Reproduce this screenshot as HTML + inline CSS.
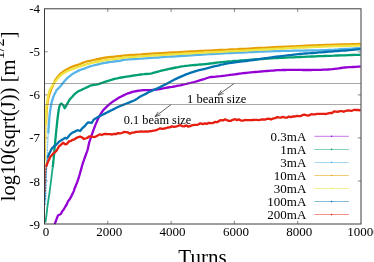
<!DOCTYPE html>
<html><head><meta charset="utf-8"><title>plot</title>
<style>
html,body{margin:0;padding:0;background:#fff;}
body{width:374px;height:262px;overflow:hidden;}
svg{display:block;will-change:transform;opacity:0.999;}
text{font-family:"Liberation Serif",serif;fill:#000;}
</style></head><body>
<svg width="374" height="262" viewBox="0 0 374 262">
<defs><clipPath id="c"><rect x="44.5" y="8.8" width="317.1" height="215.7"/></clipPath></defs>
<g stroke="#555" stroke-width="0.7">
<line x1="44.5" x2="47.7" y1="51.8" y2="51.8"/><line x1="361.0" x2="357.8" y1="51.8" y2="51.8"/>
<line y1="8.8" y2="12.0" x1="107.8" x2="107.8"/><line y1="224.0" y2="220.8" x1="107.8" x2="107.8"/>
<line x1="44.5" x2="47.7" y1="94.9" y2="94.9"/><line x1="361.0" x2="357.8" y1="94.9" y2="94.9"/>
<line y1="8.8" y2="12.0" x1="171.1" x2="171.1"/><line y1="224.0" y2="220.8" x1="171.1" x2="171.1"/>
<line x1="44.5" x2="47.7" y1="137.9" y2="137.9"/><line x1="361.0" x2="357.8" y1="137.9" y2="137.9"/>
<line y1="8.8" y2="12.0" x1="234.4" x2="234.4"/><line y1="224.0" y2="220.8" x1="234.4" x2="234.4"/>
<line x1="44.5" x2="47.7" y1="181.0" y2="181.0"/><line x1="361.0" x2="357.8" y1="181.0" y2="181.0"/>
<line y1="8.8" y2="12.0" x1="297.7" x2="297.7"/><line y1="224.0" y2="220.8" x1="297.7" x2="297.7"/>
</g>
<g clip-path="url(#c)" fill="none" stroke-width="2.3" stroke-linejoin="round" stroke-linecap="butt">
<polyline stroke="#9400D3" points="54.5,224.2 55.2,222.7 56.1,220.5 57.1,217.6 58.1,215.3 60.1,214.5 61.0,213.7 62.1,211.4 63.7,209.5 65.4,206.5 66.7,204.5 68.1,201.1 69.3,199.8 70.9,197.2 72.1,194.6 72.9,193.1 73.8,191.1 74.7,188.1 75.4,186.8 76.1,184.8 77.1,182.4 78.0,179.8 78.8,177.5 79.2,176.0 79.8,174.1 80.4,171.8 81.1,169.4 81.7,167.1 82.3,165.0 82.8,163.4 83.3,161.8 84.0,159.8 84.8,157.5 85.7,155.3 86.4,153.1 87.1,151.3 87.5,150.0 88.1,147.6 88.6,145.2 89.1,142.9 89.7,141.1 90.5,138.6 91.4,135.8 92.3,133.3 92.9,131.6 94.0,128.6 95.0,126.0 95.6,124.4 96.5,122.4 97.4,120.2 98.2,118.5 99.2,116.7 100.5,114.4 101.9,112.1 103.0,110.5 104.5,108.8 106.3,107.1 107.8,105.7 109.3,104.4 111.1,102.9 112.7,101.7 114.6,100.4 117.0,98.9 119.1,97.6 120.8,96.7 123.0,95.6 125.3,94.5 127.1,93.7 128.9,93.1 131.1,92.4 133.3,91.7 135.1,91.3 136.9,91.0 139.2,90.6 141.5,90.3 143.2,90.1 145.4,90.1 147.9,90.1 150.0,90.1 151.7,90.0 153.9,89.8 156.2,89.6 158.0,89.4 159.8,89.1 162.0,88.6 164.2,88.2 166.0,87.8 167.8,87.5 170.0,87.1 172.3,86.8 174.1,86.5 175.9,86.2 178.1,85.7 180.3,85.3 182.1,84.9 183.9,84.5 186.1,84.0 188.3,83.4 190.1,83.0 191.9,82.5 194.2,82.0 196.5,81.4 198.2,80.9 200.4,80.2 203.0,79.4 205.0,78.8 207.1,78.0 210.0,77.2 211.4,77.0 213.3,76.8 215.6,76.6 218.1,76.3 220.6,76.1 223.0,75.8 225.0,75.6 226.4,75.4 228.2,75.2 230.3,74.9 232.6,74.6 235.0,74.3 237.3,74.0 239.6,73.7 241.7,73.4 243.5,73.2 245.0,73.0 246.7,72.8 248.7,72.6 250.9,72.4 253.2,72.2 255.4,72.0 257.5,71.8 259.4,71.6 261.0,71.5 262.6,71.4 264.6,71.2 266.7,71.0 269.0,70.8 271.3,70.6 273.4,70.5 275.4,70.3 277.0,70.2 278.6,70.2 280.6,70.1 282.8,70.0 285.2,70.0 287.5,69.9 289.6,69.9 291.5,69.8 293.0,69.8 294.8,69.8 296.8,69.8 299.0,69.9 301.2,69.9 303.2,70.0 305.0,70.0 306.5,70.0 308.5,70.0 310.7,70.0 313.1,69.9 315.5,69.9 317.7,69.9 319.6,69.8 321.0,69.8 323.4,69.7 325.9,69.6 328.2,69.5 330.0,69.4 332.3,69.2 334.8,68.9 337.0,68.6 338.7,68.4 341.0,68.0 343.2,67.7 345.0,67.5 346.8,67.4 349.0,67.2 351.2,67.1 353.0,67.0 355.6,66.8 358.6,66.6 360.6,66.5"/>
<polyline stroke="#009E73" stroke-width="1.8" opacity="0.9" points="45.4,222.7 46.7,213.4 47.4,206.7 49.4,193.4 51.4,178.0 52.7,167.4"/>
<polyline stroke="#009E73" points="52.7,167.4 52.8,166.2 53.1,164.2 53.3,161.7 53.6,159.2 53.8,156.9 54.0,155.3 54.2,153.3 54.4,151.1 54.5,148.8 54.7,146.7 54.9,145.0 55.1,142.8 55.3,140.3 55.6,137.7 55.8,135.3 56.0,133.4 56.2,131.5 56.4,129.1 56.7,126.6 57.0,124.0 57.2,121.7 57.4,120.0 57.6,118.1 57.9,115.8 58.2,113.5 58.5,111.5 58.7,110.0 59.3,107.0 60.0,104.7 61.4,103.5 63.4,105.5 64.7,108.2 65.6,106.8 67.0,104.2 68.1,102.3 69.3,100.0 70.8,98.2 72.1,97.0 74.0,94.7 76.1,92.9 78.5,91.1 81.4,90.0 83.1,89.0 85.5,88.0 87.9,86.9 90.0,85.7 91.7,85.3 93.8,84.9 96.2,84.7 98.5,84.1 100.5,83.4 102.1,82.9 104.1,82.2 106.5,81.4 109.0,80.6 111.4,79.8 113.7,79.1 115.6,78.6 117.2,78.3 119.1,77.9 121.4,77.5 123.9,77.1 126.3,76.7 128.7,76.3 130.9,76.0 132.7,75.7 134.0,75.5 136.3,75.1 138.5,74.8 140.4,74.5 142.0,74.3 143.8,74.2 146.0,74.0 148.2,73.9 150.0,73.7 151.8,73.3 154.0,72.7 156.2,72.1 158.0,71.6 159.6,71.2 161.6,70.6 163.8,70.1 166.0,69.6 167.3,69.3 169.2,68.9 171.3,68.5 173.7,68.0 176.1,67.5 178.4,67.1 180.4,66.7 182.1,66.4 183.8,66.2 185.8,65.9 188.1,65.7 190.6,65.4 192.9,65.2 195.1,65.0 196.9,64.8 198.2,64.7 200.5,64.5 202.4,64.3 205.0,64.1 206.2,64.0 207.8,63.8 209.8,63.5 212.0,63.3 214.4,63.0 216.8,62.7 219.2,62.4 221.4,62.2 223.4,62.0 225.0,61.8 226.5,61.7 228.3,61.5 230.2,61.3 232.2,61.2 234.3,61.0 236.5,60.8 238.7,60.7 240.9,60.5 243.0,60.3 245.0,60.2 246.9,60.1 249.2,59.9 251.9,59.7 254.9,59.5 258.1,59.3 261.4,59.1 264.8,58.8 268.2,58.6 271.5,58.4 274.6,58.2 277.5,58.0 280.0,57.9 282.7,57.8 285.9,57.6 289.6,57.4 291.7,57.4 293.7,57.3 295.9,57.2 298.0,57.1 300.3,57.0 302.5,56.9 304.7,56.8 306.9,56.7 309.1,56.6 311.2,56.5 313.3,56.5 315.3,56.4 319.0,56.2 322.3,56.1 325.0,56.0 327.6,55.9 330.6,55.8 333.9,55.7 337.5,55.5 341.1,55.4 344.8,55.3 348.3,55.1 351.6,55.0 354.6,54.9 357.2,54.8 359.2,54.8 360.6,54.7"/>
<polyline stroke="#56B4E9" stroke-width="1.3" stroke-dasharray="2.2 0.5" opacity="0.75" points="45.6,205.0 46.3,175.0 47.3,155.0 47.4,146.7 48.3,133.4"/>
<polyline stroke="#56B4E9" points="48.3,133.4 48.4,132.0 48.5,129.6 48.7,126.7 48.9,123.8 49.1,121.3 49.2,119.5 49.4,117.1 49.6,114.8 49.9,112.7 50.2,110.7 50.6,108.0 51.0,105.4 51.4,103.4 52.0,101.1 52.8,98.6 53.4,96.7 54.4,94.4 55.4,92.5 56.7,90.0 58.1,88.6 60.0,86.7 61.0,85.5 62.4,83.8 64.0,81.8 65.5,80.0 66.7,78.7 68.2,77.4 70.1,75.8 71.9,74.4 73.4,73.4 75.5,72.2 78.1,70.9 80.1,70.0 82.6,69.1 85.0,68.4 87.1,67.5 90.0,66.4 91.4,66.0 93.4,65.5 95.8,64.9 98.4,64.3 100.9,63.7 103.2,63.2 105.0,62.8 106.8,62.5 109.1,62.2 111.6,61.9 114.2,61.5 116.6,61.2 118.6,61.0 120.0,60.8 121.6,60.3 125.0,59.7 126.5,59.6 128.6,59.4 131.2,59.2 134.2,59.0 137.5,58.8 141.0,58.6 144.5,58.3 148.1,58.1 151.5,57.9 154.7,57.6 157.6,57.5 160.0,57.3 162.4,57.1 165.4,56.9 168.6,56.7 172.2,56.5 175.9,56.3 179.8,56.0 183.6,55.8 187.4,55.5 191.0,55.3 194.4,55.1 197.4,54.9 200.0,54.8 202.6,54.6 205.6,54.4 208.9,54.2 212.4,54.0 216.2,53.8 220.0,53.6 223.8,53.4 227.6,53.2 231.1,53.0 234.4,52.9 237.4,52.7 240.0,52.6 242.6,52.5 245.5,52.3 248.8,52.2 252.3,52.1 256.0,51.9 259.8,51.7 263.6,51.6 267.3,51.4 270.9,51.3 274.2,51.2 277.3,51.1 280.0,51.0 282.8,50.9 286.1,50.9 289.9,50.8 294.0,50.7 298.3,50.6 302.7,50.6 307.1,50.5 311.4,50.4 315.4,50.3 319.1,50.3 322.3,50.2 325.0,50.1 327.6,50.0 330.6,49.8 333.9,49.7 337.5,49.5 341.1,49.2 344.8,49.0 348.3,48.8 351.6,48.6 354.6,48.4 357.2,48.2 359.2,48.1 360.6,48.0"/>
<polyline stroke="#E69F00" stroke-width="1.3" stroke-dasharray="2.2 0.5" opacity="0.75" points="45.2,160.0 45.9,125.0"/>
<polyline stroke="#E69F00" points="45.9,125.0 46.0,123.8 46.1,121.8 46.2,119.4 46.3,116.6 46.5,113.8 46.6,111.2 46.8,109.0 46.9,107.4 47.2,104.9 47.6,102.3 48.0,99.9 48.4,98.0 48.9,96.1 49.6,93.8 50.4,91.6 50.9,90.0 51.8,87.9 52.8,86.0 53.5,84.2 54.5,81.9 55.4,80.0 56.7,78.1 58.5,75.9 60.0,74.2 61.5,72.9 63.5,71.4 65.2,70.3 67.2,69.2 69.8,67.8 72.0,66.8 73.8,66.1 76.1,65.3 78.4,64.6 80.1,64.0 82.7,62.9 85.0,62.0 87.1,61.4 90.0,60.8 91.4,60.5 93.4,60.1 95.8,59.5 98.4,59.0 100.9,58.5 103.2,58.0 105.0,57.7 106.8,57.5 109.1,57.2 111.6,56.9 114.2,56.7 116.6,56.4 118.6,56.2 120.0,56.1 121.6,55.8 125.0,55.4 126.5,55.3 128.6,55.2 131.2,55.0 134.2,54.8 137.5,54.6 141.0,54.4 144.5,54.1 148.1,53.9 151.5,53.7 154.7,53.5 157.6,53.3 160.0,53.2 162.4,53.1 165.4,52.9 168.6,52.7 172.2,52.5 175.9,52.3 179.8,52.1 183.6,51.9 187.4,51.7 191.0,51.5 194.4,51.3 197.4,51.1 200.0,51.0 202.6,50.9 205.6,50.7 208.9,50.6 212.4,50.4 216.2,50.2 220.0,50.0 223.8,49.8 227.6,49.7 231.1,49.5 234.4,49.3 237.4,49.2 240.0,49.0 242.6,48.9 245.5,48.8 248.8,48.6 252.3,48.4 256.0,48.2 259.8,48.0 263.6,47.8 267.3,47.6 270.9,47.4 274.2,47.2 277.3,47.0 280.0,46.9 282.8,46.8 286.1,46.6 289.9,46.5 294.0,46.3 298.3,46.1 302.7,45.9 307.1,45.7 311.4,45.5 315.4,45.4 319.1,45.2 322.3,45.1 325.0,45.0 327.6,44.9 330.6,44.8 333.9,44.7 337.5,44.6 341.1,44.5 344.8,44.4 348.3,44.3 351.6,44.2 354.6,44.2 357.2,44.1 359.2,44.0 360.6,44.0"/>
<polyline stroke="#F0E442" stroke-width="1.3" stroke-dasharray="2.2 0.5" opacity="0.75" points="45.1,175.0 45.6,125.0"/>
<polyline stroke="#F0E442" points="45.6,125.0 45.7,123.8 45.7,121.8 45.8,119.4 45.9,116.6 46.1,113.8 46.2,111.2 46.3,109.0 46.4,107.4 46.7,104.9 47.1,102.2 47.5,99.8 47.8,98.0 48.2,95.7 48.8,93.1 49.4,91.0 50.1,89.5 51.2,87.5 52.3,85.6 53.4,84.0 54.4,82.6 55.8,80.9 57.4,78.9 58.8,77.2 60.0,76.0 61.4,74.8 63.1,73.6 64.9,72.4 66.7,71.4 68.1,70.8 70.0,70.0 72.3,69.2 74.7,68.3 76.9,67.4 78.8,66.8 80.1,66.3 82.9,65.4 85.0,64.8 87.1,64.1 90.0,63.3 91.4,63.0 93.4,62.6 95.8,62.0 98.4,61.5 100.9,61.0 103.2,60.5 105.0,60.2 106.8,59.9 109.1,59.6 111.6,59.3 114.2,59.0 116.6,58.7 118.6,58.5 120.0,58.3 121.6,57.9 125.0,57.5 126.5,57.4 128.6,57.2 131.2,57.0 134.2,56.8 137.5,56.6 141.0,56.4 144.5,56.1 148.1,55.9 151.5,55.7 154.7,55.4 157.6,55.3 160.0,55.1 162.4,54.9 165.4,54.8 168.6,54.6 172.2,54.4 175.9,54.2 179.8,53.9 183.6,53.7 187.4,53.5 191.0,53.3 194.4,53.1 197.4,52.9 200.0,52.8 202.6,52.7 205.6,52.5 208.9,52.3 212.4,52.2 216.2,52.0 220.0,51.8 223.8,51.6 227.6,51.4 231.1,51.2 234.4,51.0 237.4,50.9 240.0,50.8 242.6,50.6 245.5,50.5 248.8,50.3 252.3,50.1 256.0,49.9 259.8,49.7 263.6,49.5 267.3,49.3 270.9,49.1 274.2,48.9 277.3,48.7 280.0,48.6 282.8,48.5 286.1,48.3 289.9,48.1 294.0,47.9 298.3,47.7 302.7,47.5 307.1,47.3 311.4,47.1 315.4,46.9 319.1,46.8 322.3,46.6 325.0,46.5 327.6,46.4 330.6,46.3 333.9,46.2 337.5,46.1 341.1,46.0 344.8,45.9 348.3,45.8 351.6,45.7 354.6,45.6 357.2,45.5 359.2,45.4 360.6,45.4"/>
<polyline stroke="#0072B2" stroke-width="1.3" stroke-dasharray="2.2 0.5" opacity="0.75" points="45.2,200.0 45.6,180.0 46.3,168.0 47.6,157.6"/>
<polyline stroke="#0072B2" points="47.6,157.6 48.4,155.6 49.3,153.4 50.3,151.6 51.4,149.2 52.9,147.3 54.6,145.9 56.0,145.0 57.9,142.9 59.3,141.5 62.5,139.6 65.2,137.8 66.8,138.6 68.3,136.8 70.0,134.6 72.1,132.8 74.3,131.9 76.2,130.8 78.0,130.2 80.1,131.0 81.9,128.7 83.9,126.9 85.2,125.6 86.9,123.5 88.2,122.3 91.9,122.8 93.3,120.2 95.0,118.7 96.5,117.9 98.8,116.6 101.1,115.4 103.0,114.5 104.8,113.6 107.0,112.5 109.2,111.4 111.0,110.5 112.8,109.6 115.0,108.5 117.3,107.3 119.1,106.5 120.9,105.8 123.1,104.9 125.3,104.0 127.1,103.3 128.9,102.6 131.2,101.6 133.5,100.7 135.1,100.0 137.6,98.4 139.9,96.8 141.9,95.8 144.5,94.5 146.4,93.6 148.1,92.6 150.0,91.6 151.6,90.9 153.8,89.9 156.2,88.9 158.0,88.1 159.8,87.2 162.0,86.1 164.2,85.0 166.0,84.1 167.8,83.2 170.0,81.9 172.3,80.7 174.1,79.8 175.9,78.9 178.1,77.9 180.3,76.9 182.1,76.1 183.9,75.4 186.1,74.4 188.3,73.6 190.1,72.9 191.9,72.3 194.2,71.6 196.5,70.9 198.2,70.4 200.3,69.9 202.8,69.3 205.0,68.8 206.6,68.4 208.7,67.8 211.0,67.2 213.3,66.6 215.0,66.2 216.7,65.8 218.9,65.3 221.1,64.7 223.3,64.3 225.0,63.9 226.7,63.6 228.9,63.2 231.1,62.9 233.3,62.5 235.0,62.3 236.6,62.1 238.6,61.9 240.8,61.7 243.0,61.4 245.0,61.2 246.5,61.0 248.4,60.7 250.7,60.3 253.2,60.0 255.7,59.6 258.1,59.2 260.2,58.9 262.0,58.6 263.5,58.4 265.4,58.1 267.5,57.9 269.7,57.6 272.0,57.3 274.3,57.0 276.4,56.7 278.3,56.5 280.0,56.3 281.5,56.1 283.3,55.9 285.3,55.7 287.4,55.4 289.7,55.1 292.0,54.9 294.2,54.6 296.3,54.4 298.3,54.2 300.0,54.0 301.5,53.9 303.3,53.7 305.4,53.5 307.6,53.3 310.0,53.2 312.5,53.0 315.0,52.8 317.4,52.6 319.6,52.4 321.7,52.3 323.5,52.1 325.0,52.0 326.7,51.9 328.7,51.7 330.9,51.6 333.1,51.4 335.4,51.2 337.7,51.1 339.8,50.9 341.8,50.7 343.6,50.6 345.0,50.5 347.1,50.3 349.6,50.1 352.3,49.9 355.0,49.6 357.4,49.4 359.4,49.2 360.6,49.1"/>
<polyline stroke="#E51E10" stroke-width="1.3" stroke-dasharray="2.2 0.5" opacity="0.75" points="45.0,192.0 45.1,180.0 45.4,172.0 46.0,166.7"/>
<polyline stroke="#E51E10" points="46.0,166.7 47.0,164.2 48.2,161.4 49.2,159.2 50.3,156.7 51.5,155.6 53.0,153.7 54.4,152.6 56.4,150.8 57.8,148.5 59.1,146.2 60.3,145.4 63.0,142.8 65.2,144.3 66.8,144.0 68.9,141.5 70.4,141.2 72.7,139.8 74.9,139.2 76.4,137.8 78.4,137.2 80.1,136.7 82.0,137.4 83.9,139.0 87.1,138.0 89.2,136.3 91.4,136.6 94.9,137.1 97.3,135.8 100.0,134.3 101.8,135.0 104.0,134.0 106.0,134.0 107.7,134.2 109.9,134.1 112.2,134.5 114.0,133.8 115.8,134.1 118.0,133.1 120.2,133.4 122.0,133.0 123.8,132.0 126.0,132.2 128.2,132.5 130.0,133.7 131.7,132.7 133.8,132.7 136.0,131.9 138.0,131.9 139.5,131.6 141.4,131.4 143.7,131.6 146.0,131.4 148.1,131.6 150.0,131.1 151.5,131.1 153.4,130.7 155.5,130.4 157.8,129.5 160.2,128.3 162.4,128.8 164.4,128.5 166.0,128.2 167.6,127.5 169.7,127.4 172.0,126.4 174.3,126.9 176.7,126.3 178.8,125.7 180.7,125.2 182.0,126.2 184.2,126.4 186.3,125.4 188.3,126.7 190.0,126.2 191.8,125.4 194.2,124.9 196.4,124.9 198.2,124.6 200.4,123.3 202.9,124.1 205.0,123.3 206.7,123.9 208.9,122.9 211.2,123.2 213.0,123.0 214.8,121.9 217.2,122.2 219.4,120.7 221.0,120.1 223.2,120.4 225.0,119.3 226.8,120.1 229.0,120.9 230.6,120.9 232.8,119.8 235.2,119.2 237.0,120.1 238.8,119.4 241.0,120.5 243.2,120.6 245.0,120.0 246.7,120.1 248.9,120.1 251.1,120.2 253.0,120.0 254.6,119.9 256.8,119.9 259.2,120.2 261.4,119.5 263.0,119.3 264.9,119.6 267.1,118.8 269.3,118.7 271.0,119.5 272.8,118.6 275.0,118.2 277.2,117.1 279.0,117.4 280.8,117.6 283.0,116.8 285.2,117.7 287.0,117.7 288.8,116.6 291.0,117.1 293.2,116.4 295.0,116.5 296.7,115.8 298.8,116.1 301.0,116.0 303.0,114.8 304.5,114.7 306.6,115.3 308.9,115.5 311.2,114.2 313.3,114.3 315.0,114.3 317.0,113.9 319.5,113.9 322.0,113.8 324.4,113.8 326.0,114.0 328.2,113.3 330.4,112.9 332.0,113.1 334.0,111.4 336.0,111.6 337.7,111.8 340.0,111.2 342.0,111.1 343.7,111.8 345.9,110.8 348.2,110.4 350.0,110.6 351.9,110.8 354.2,109.8 356.5,110.0 358.0,110.0 360.6,110.4"/>
</g>
<line x1="44.5" x2="361.0" y1="83.4" y2="83.4" stroke="#505050" stroke-width="0.8" opacity="0.7"/>
<line x1="44.5" x2="361.0" y1="104.4" y2="104.4" stroke="#505050" stroke-width="0.8" opacity="0.7"/>
<rect x="44.5" y="8.8" width="316.5" height="215.2" fill="none" stroke="#3c3c3c" stroke-width="1"/>
<g font-size="13">
<text x="40.0" y="13.3" text-anchor="end">-4</text>
<text x="40.0" y="56.3" text-anchor="end">-5</text>
<text x="40.0" y="99.4" text-anchor="end">-6</text>
<text x="40.0" y="142.4" text-anchor="end">-7</text>
<text x="40.0" y="185.5" text-anchor="end">-8</text>
<text x="40.0" y="228.5" text-anchor="end">-9</text>
<text x="46.0" y="236.1" text-anchor="middle">0</text>
<text x="109.3" y="236.1" text-anchor="middle">2000</text>
<text x="172.6" y="236.1" text-anchor="middle">4000</text>
<text x="235.9" y="236.1" text-anchor="middle">6000</text>
<text x="299.2" y="236.1" text-anchor="middle">8000</text>
<text x="363.5" y="236.1" text-anchor="middle">10000</text>
</g>
<text x="202.5" y="264.3" font-size="21" text-anchor="middle">Turns</text>
<text transform="translate(15.2,116.3) rotate(-90)" font-size="20.5" letter-spacing="0.07" text-anchor="middle">log10(sqrt(J)) [m<tspan font-size="16.4" dy="-10.8">1/2</tspan><tspan dy="10.8">]</tspan></text>
<g font-size="12.35"><text x="187.1" y="102.7" font-size="12.55">1 beam size</text><text x="191.3" y="124" text-anchor="end">0.1 beam size</text></g>
<g stroke="#3c3c3c" stroke-width="0.8">
<line x1="171.05" y1="104.6" x2="155.0" y2="116.65"/><polyline fill="none" points="158.2,111.8 155.0,116.65 160.5,114.9"/>
<line x1="234.05" y1="83.5" x2="218.0" y2="95.1"/><polyline fill="none" points="221.3,90.3 218.0,95.1 223.6,93.5"/>
</g>
<g font-size="13">
<text x="306.3" y="140.6" text-anchor="end">0.3mA</text><line x1="314.4" x2="348.9" y1="136.3" y2="136.3" stroke="#9400D3" stroke-width="0.7" opacity="0.78"/><circle cx="331.6" cy="136.3" r="0.8" fill="#9400D3"/>
<text x="306.3" y="153.7" text-anchor="end">1mA</text><line x1="314.4" x2="348.9" y1="149.4" y2="149.4" stroke="#009E73" stroke-width="0.7" opacity="0.78"/><circle cx="331.6" cy="149.4" r="0.8" fill="#009E73"/>
<text x="306.3" y="166.7" text-anchor="end">3mA</text><line x1="314.4" x2="348.9" y1="162.4" y2="162.4" stroke="#56B4E9" stroke-width="0.7" opacity="0.78"/><circle cx="331.6" cy="162.4" r="0.8" fill="#56B4E9"/>
<text x="306.3" y="179.8" text-anchor="end">10mA</text><line x1="314.4" x2="348.9" y1="175.5" y2="175.5" stroke="#E69F00" stroke-width="0.7" opacity="0.78"/><circle cx="331.6" cy="175.5" r="0.8" fill="#E69F00"/>
<text x="306.3" y="192.8" text-anchor="end">30mA</text><line x1="314.4" x2="348.9" y1="188.5" y2="188.5" stroke="#F0E442" stroke-width="0.7" opacity="0.78"/><circle cx="331.6" cy="188.5" r="0.8" fill="#F0E442"/>
<text x="306.3" y="205.9" text-anchor="end">100mA</text><line x1="314.4" x2="348.9" y1="201.6" y2="201.6" stroke="#0072B2" stroke-width="0.7" opacity="0.78"/><circle cx="331.6" cy="201.6" r="0.8" fill="#0072B2"/>
<text x="306.3" y="218.9" text-anchor="end">200mA</text><line x1="314.4" x2="348.9" y1="214.6" y2="214.6" stroke="#E51E10" stroke-width="0.7" opacity="0.78"/><circle cx="331.6" cy="214.6" r="0.8" fill="#E51E10"/>
</g>
</svg>
</body></html>
